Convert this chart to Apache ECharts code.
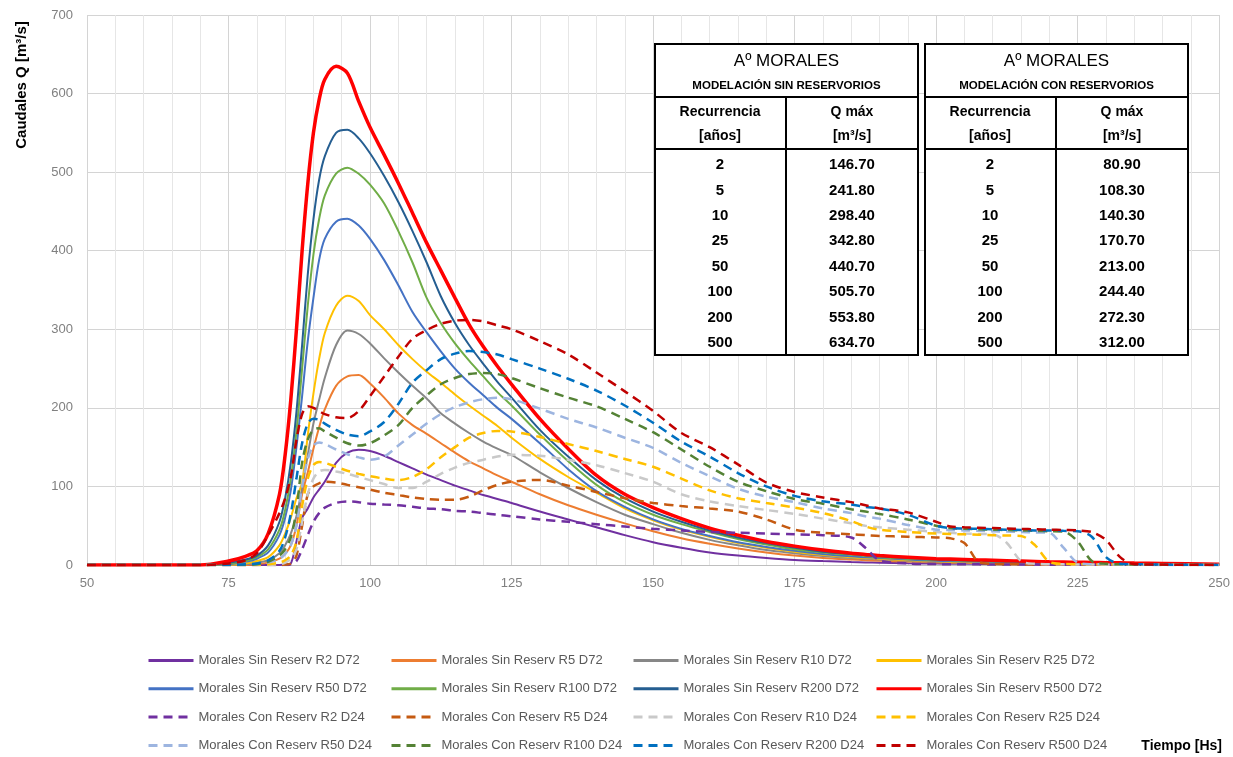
<!DOCTYPE html>
<html>
<head>
<meta charset="utf-8">
<title>Aº Morales - Hidrogramas</title>
<script src="https://cdn.jsdelivr.net/npm/echarts@6/dist/echarts.min.js"></script>
<style>
  html, body { margin: 0; padding: 0; background: #fff; }
  #chart { width: 1233px; height: 757px; }
</style>
</head>
<body>
<div id="chart"></div>
<script>
// tiempo [Hs] comun a todas las curvas
const tiempo = [50, 70, 75, 78, 80, 82, 84, 85, 86, 87,
  88, 89, 90, 91, 92, 94, 96, 98, 100, 102.5,
  105, 107.5, 110, 112.5, 115, 117.5, 120, 122.5, 125, 130,
  135, 140, 145, 150, 155, 160, 165, 170, 175, 180,
  185, 187.5, 190, 195, 200, 202.5, 205, 207.5, 210, 212.5,
  215, 217.5, 220, 222.5, 225, 227.5, 230, 232.5, 235, 240, 250]

// caudales [m3/s] - modelacion sin reservorios (D72)
const sinR2 = [0, 0, 0, 0, 0, 0, 0, 0.5, 2, 30,
  60, 72, 86, 96, 106, 130, 143, 146.7, 145, 139,
  131, 123, 115, 108, 101, 95, 89, 84, 79, 68,
  58, 48, 38, 29, 22, 16, 12, 9, 6.5, 5,
  3.8, 3.3, 2.9, 2.3, 1.8, 1.6, 1.5, 1.4, 1.3, 1.2,
  1.1, 1, 0.9, 0.8, 0.7, 0.7, 0.6, 0.6, 0.5, 0.4, 0.2]
const sinR5 = [0, 0, 0, 0, 1, 3, 8, 14, 25, 50,
  90, 118, 148, 175, 198, 228, 240, 241.8, 231, 213,
  193, 178, 167, 155, 143, 132, 123, 114, 106, 90,
  76, 64, 53, 43, 34, 27, 21, 16, 12, 9,
  7, 6.2, 5.5, 4.3, 3.3, 3, 2.8, 2.6, 2.4, 2.2,
  2, 1.8, 1.6, 1.5, 1.4, 1.3, 1.2, 1.1, 1, 0.8, 0.4]
const sinR10 = [0, 0, 0, 1, 3, 6, 15, 25, 40, 62,
  98, 140, 180, 210, 238, 280, 298.4, 294, 282, 263,
  245, 228, 212, 193, 180, 168, 157, 148, 140, 118,
  98, 80, 64, 52, 41, 32, 25, 19, 15, 11.5,
  9, 8, 7, 5.5, 4.2, 3.8, 3.5, 3.2, 2.9, 2.6,
  2.4, 2.2, 2, 1.8, 1.6, 1.5, 1.4, 1.3, 1.2, 1, 0.5]
const sinR25 = [0, 0, 0.5, 2, 5, 10, 25, 40, 60, 85,
  105, 165, 218, 262, 295, 330, 342.8, 336, 318, 300,
  280, 262, 246, 232, 217, 203, 190, 177, 162, 135,
  112, 92, 72, 57, 45, 36, 28, 22, 17, 13,
  10, 9, 8, 6.2, 4.7, 4.2, 3.8, 3.5, 3.2, 2.9,
  2.6, 2.4, 2.2, 2, 1.8, 1.6, 1.5, 1.4, 1.3, 1, 0.5]
const sinR50 = [0, 0, 1, 4, 8, 16, 38, 60, 95, 150,
  215, 285, 340, 388, 415, 437, 440.7, 432, 415, 388,
  356, 322, 296, 272, 250, 232, 216, 200, 186, 155,
  122, 94, 74, 58, 46, 37, 29, 23, 18, 14,
  11, 10, 9, 7, 5.5, 5, 4.6, 4.2, 3.9, 3.6,
  3.3, 3, 2.8, 2.6, 2.4, 2.2, 2, 1.8, 1.6, 1.3, 0.7]
const sinR100 = [0, 0, 2, 5, 10, 20, 45, 70, 110, 170,
  250, 330, 395, 440, 470, 498, 505.7, 498, 484, 460,
  425, 385, 340, 308, 282, 260, 240, 220, 203, 166,
  132, 102, 80, 64, 52, 42, 33, 26, 20, 16,
  13, 11.5, 10, 8, 6.5, 6, 5.5, 5, 4.6, 4.2,
  3.9, 3.6, 3.3, 3, 2.8, 2.6, 2.4, 2.2, 2, 1.5, 0.8]
const sinR200 = [0, 0, 3, 7, 12, 25, 55, 85, 130, 195,
  280, 370, 440, 490, 520, 550, 553.8, 543, 524, 495,
  462, 425, 385, 342, 308, 280, 256, 233, 213, 172,
  138, 108, 85, 68, 55, 44, 35, 28, 22, 17,
  14, 12.5, 11, 9, 7, 6.5, 6, 5.5, 5, 4.6,
  4.2, 3.9, 3.6, 3.3, 3, 2.8, 2.6, 2.4, 2.2, 1.7, 0.9]
const sinR500 = [0, 0, 5, 11, 18, 40, 90, 140, 210, 300,
  400, 485, 550, 592, 618, 634.7, 626, 590, 557, 522,
  486, 448, 410, 375, 340, 306, 278, 253, 230, 186,
  148, 114, 90, 73, 59, 47, 38, 30, 24, 19,
  15, 13.5, 12, 10, 8, 7.5, 7, 6.5, 6, 5.5,
  5, 4.5, 4, 3.8, 3.5, 3.2, 3, 2.8, 2.5, 2, 1]

// caudales [m3/s] - modelacion con reservorios (D24)
const conR2 = [0, 0, 0, 0, 0, 0, 0, 0, 1, 5,
  20, 38, 55, 66, 73, 79, 80.9, 80, 78, 77,
  76, 74, 72, 71, 69, 68, 66, 64, 62, 58,
  55, 52, 49, 46, 44, 42, 41, 40, 39, 38,
  35, 22, 6, 2, 1.2, 1, 0.9, 0.8, 0.7, 0.6,
  0.5, 0.5, 0.4, 0.4, 0.3, 0.3, 0.3, 0.2, 0.2, 0.1, 0]
const conR5 = [0, 0, 0, 0, 0, 0, 0, 0.5, 2, 12,
  50, 90, 100, 104, 106, 105, 102, 99, 96, 92,
  89, 86, 84, 83, 83, 87, 95, 102, 106, 108.3,
  101, 93, 85, 79, 75, 72, 68, 58, 45, 41,
  39, 38, 37, 36, 35, 34, 28, 4, 1.5, 1,
  0.8, 0.7, 0.6, 0.5, 0.5, 0.4, 0.4, 0.3, 0.3, 0.2, 0.1]
const conR10 = [0, 0, 0, 0, 0, 0, 1, 3, 8, 20,
  55, 90, 110, 119, 121, 119, 116, 112, 108, 103,
  98, 98, 106, 116, 124, 130, 134, 138, 140.3, 139,
  134, 127, 117, 106, 90, 81, 75, 70, 65, 59,
  53, 50, 48, 45, 42, 41, 40, 39.5, 39, 28,
  5, 1.5, 1, 0.8, 0.7, 0.6, 0.5, 0.4, 0.3, 0.2, 0.1]
const conR25 = [0, 0, 0, 0, 0, 1, 3, 6, 12, 30,
  75, 110, 127, 131, 130, 125, 120, 116, 113, 110,
  108, 112, 122, 137, 150, 162, 168, 170.7, 170, 163,
  154, 145, 135, 125, 110, 95, 85, 79, 73, 66,
  56, 49, 45, 42, 40, 39.5, 39, 38.5, 38, 37.5,
  37, 25, 4, 1.5, 1, 0.8, 0.6, 0.5, 0.4, 0.3, 0.1]
const conR50 = [0, 0, 0, 0, 1, 3, 8, 14, 25, 50,
  100, 135, 152, 156, 154, 147, 141, 137, 134, 138,
  152, 166, 180, 192, 201, 207, 211, 213, 211, 199,
  186, 175, 162, 149, 130, 113, 97, 87, 80, 72,
  66, 62, 59, 51, 45, 44.5, 44, 43.5, 43, 42.5,
  42, 41.5, 41, 22, 3, 1, 0.8, 0.6, 0.5, 0.3, 0.1]
const conR100 = [0, 0, 0, 0, 1, 4, 12, 20, 35, 70,
  130, 160, 172, 174, 170, 162, 155, 152, 155, 165,
  178, 200, 216, 230, 238, 243, 244.4, 243, 238, 225,
  213, 202, 186, 169, 147, 125, 106, 94, 84, 78,
  71, 68, 65, 58, 50, 47, 46, 45.5, 45, 44.5,
  44, 43.5, 43, 42.5, 30, 5, 1.5, 1, 0.7, 0.4, 0.1]
const conR200 = [0, 0, 0, 1, 2, 6, 18, 35, 65, 110,
  155, 180, 186, 185, 180, 172, 166, 164, 170, 182,
  205, 232, 248, 262, 269, 272.3, 271, 268, 262, 250,
  237, 222, 203, 181, 157, 138, 117, 100, 88, 81,
  77, 74, 72, 64, 50, 47, 46.5, 46, 45.5, 45,
  44.5, 44, 44, 43.5, 43, 36, 10, 1.5, 1, 0.5, 0.1]
const conR500 = [0, 0, 2, 6, 15, 38, 66, 85, 112, 159,
  192, 202, 200, 196, 192, 188, 187, 196, 215, 240,
  265, 288, 299, 307, 311, 312, 310, 305, 300, 285,
  268, 245, 221, 196, 168, 150, 128, 105, 93, 86,
  80, 76, 72, 67, 55, 49, 48, 47.5, 47, 46.5,
  46, 45.5, 45, 44.5, 44, 42, 32, 10, 1, 0.5, 0.1]

// tabla de caudales maximos
const recurrencias = ['2', '5', '10', '25', '50', '100', '200', '500']
const qmaxSin = ['146.70', '241.80', '298.40', '342.80', '440.70', '505.70', '553.80', '634.70']
const qmaxCon = ['80.90', '108.30', '140.30', '170.70', '213.00', '244.40', '272.30', '312.00']

const curvas = [
  { name: 'Morales Sin Reserv R2 D72', data: sinR2, color: '#7030A0' },
  { name: 'Morales Sin Reserv R5 D72', data: sinR5, color: '#ED7D31' },
  { name: 'Morales Sin Reserv R10 D72', data: sinR10, color: '#878787' },
  { name: 'Morales Sin Reserv R25 D72', data: sinR25, color: '#FFC000' },
  { name: 'Morales Sin Reserv R50 D72', data: sinR50, color: '#4472C4' },
  { name: 'Morales Sin Reserv R100 D72', data: sinR100, color: '#70AD47' },
  { name: 'Morales Sin Reserv R200 D72', data: sinR200, color: '#255E91' },
  { name: 'Morales Sin Reserv R500 D72', data: sinR500, color: '#FF0000', width: 3.5 },
  { name: 'Morales Con Reserv R2 D24', data: conR2, color: '#7030A0', dashed: true },
  { name: 'Morales Con Reserv R5 D24', data: conR5, color: '#C55A11', dashed: true },
  { name: 'Morales Con Reserv R10 D24', data: conR10, color: '#C9C9C9', dashed: true },
  { name: 'Morales Con Reserv R25 D24', data: conR25, color: '#FFC000', dashed: true },
  { name: 'Morales Con Reserv R50 D24', data: conR50, color: '#9DB5E0', dashed: true },
  { name: 'Morales Con Reserv R100 D24', data: conR100, color: '#548235', dashed: true },
  { name: 'Morales Con Reserv R200 D24', data: conR200, color: '#0070C0', dashed: true },
  { name: 'Morales Con Reserv R500 D24', data: conR500, color: '#C00000', dashed: true }
]

const fuente = 'Liberation Sans'

function texto(txt, x, y, size, bold, align) {
  return {
    type: 'text',
    z: 100,
    style: {
      text: txt, x: x, y: y,
      fill: '#000',
      font: (bold ? 'bold ' : '') + size + 'px ' + fuente,
      align: align || 'center', textAlign: align || 'center',
      verticalAlign: 'middle', textVerticalAlign: 'middle'
    }
  }
}

function linea(x1, y1, x2, y2) {
  return {
    type: 'line', z: 100,
    shape: { x1: x1, y1: y1, x2: x2, y2: y2 },
    style: { stroke: '#000', lineWidth: 2 }
  }
}

function tabla(x0, subtitulo, qmax) {
  const w = 263, top = 44, bottom = 355, mid = x0 + 131
  const els = [
    { type: 'rect', z: 99, shape: { x: x0, y: top, width: w, height: bottom - top },
      style: { fill: '#fff', stroke: '#000', lineWidth: 2 } },
    linea(x0, 97, x0 + w, 97),
    linea(x0, 149, x0 + w, 149),
    linea(mid, 97, mid, bottom),
    texto('Aº MORALES', x0 + w / 2, 61, 17, false),
    texto(subtitulo, x0 + w / 2, 86, 11.5, true),
    texto('Recurrencia', x0 + 65, 112, 14, true),
    texto('[años]', x0 + 65, 136, 14, true),
    texto('Q máx', mid + 66, 112, 14, true),
    texto('[m³/s]', mid + 66, 136, 14, true)
  ]
  recurrencias.forEach(function (r, i) {
    const y = 165 + i * 25.4
    els.push(texto(r, x0 + 65, y, 15, true))
    els.push(texto(qmax[i], mid + 66, y, 15, true))
  })
  return els
}

const chart = echarts.init(document.getElementById('chart'))

const colLeft = [147, 390, 632, 875]
const legends = colLeft.map(function (left, c) {
  return {
    orient: 'vertical',
    left: left,
    top: 654,
    padding: 0,
    itemWidth: 45,
    itemHeight: 14,
    itemGap: 15.3,
    itemStyle: { opacity: 0 },
    lineStyle: { width: 3 },
    textStyle: { color: '#595959', fontSize: 13, fontFamily: fuente },
    data: [c, c + 4, c + 8, c + 12].map(function (k) { return curvas[k].name })
  }
})

chart.setOption({
  animation: false,
  textStyle: { fontFamily: fuente },
  grid: { left: 87, right: 13, top: 15, bottom: 192 },
  legend: legends,
  xAxis: {
    type: 'value',
    min: 50,
    max: 250,
    interval: 25,
    axisLine: { lineStyle: { color: '#BFBFBF' } },
    axisTick: { show: false },
    axisLabel: { color: '#808080', fontSize: 13, margin: 12 },
    splitLine: { show: true, lineStyle: { color: '#D4D4D4' } },
    minorTick: { show: false, splitNumber: 5 },
    minorSplitLine: { show: true, lineStyle: { color: '#E6E6E6' } }
  },
  yAxis: {
    type: 'value',
    min: 0,
    max: 700,
    interval: 100,
    axisLine: { show: false },
    axisTick: { show: false },
    axisLabel: { color: '#808080', fontSize: 13, margin: 14 },
    splitLine: { lineStyle: { color: '#D4D4D4' } }
  },
  graphic: [].concat(
    tabla(655, 'MODELACIÓN SIN RESERVORIOS', qmaxSin),
    tabla(925, 'MODELACIÓN CON RESERVORIOS', qmaxCon),
    [
      {
        type: 'text', x: 22, y: 85, rotation: Math.PI / 2,
        style: {
          text: 'Caudales Q [m³/s]', fill: '#000', font: 'bold 15px ' + fuente,
          align: 'center', textAlign: 'center', verticalAlign: 'middle', textVerticalAlign: 'middle'
        }
      },
      {
        type: 'text', x: 1222, y: 746,
        style: {
          text: 'Tiempo [Hs]', fill: '#000', font: 'bold 14px ' + fuente,
          align: 'right', textAlign: 'right', verticalAlign: 'middle', textVerticalAlign: 'middle'
        }
      }
    ]
  ),
  series: curvas.map(function (c) {
    return {
      name: c.name,
      type: 'line',
      smooth: 0.3,
      symbol: 'none',
      data: tiempo.map(function (t, i) { return [t, c.data[i]] }),
      lineStyle: { color: c.color, width: c.width || (c.dashed ? 2.5 : 2), type: c.dashed ? [9, 6] : 'solid' },
      itemStyle: { color: c.color }
    }
  })
})
</script>
</body>
</html>
